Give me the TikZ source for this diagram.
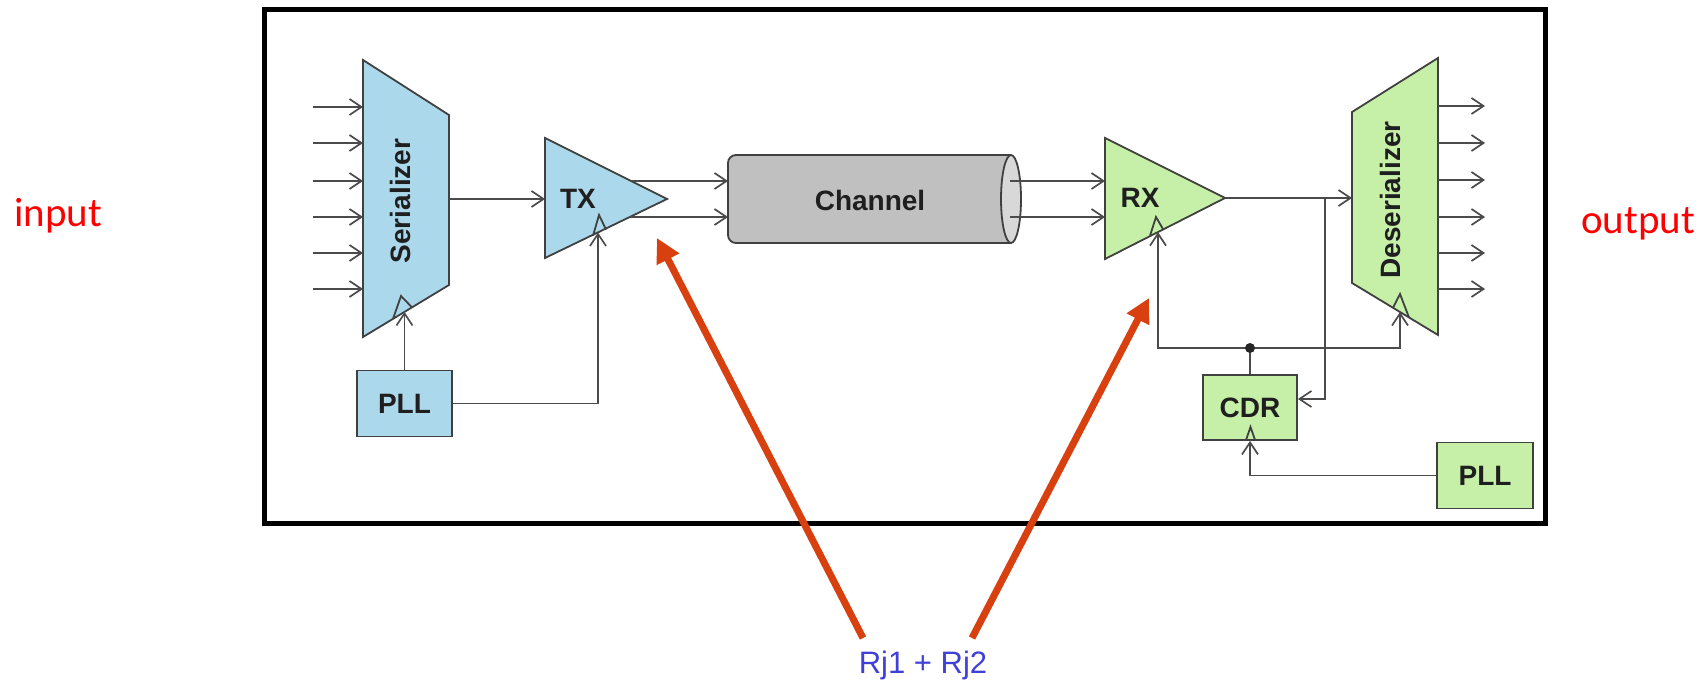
\documentclass[tikz,border=0pt]{standalone}
\usepackage{fontspec}
\setmainfont{Liberation Sans}
\newfontfamily\notefont{Carlito}
\usetikzlibrary{arrows.meta,calc}

\definecolor{txblue}{RGB}{172,216,236}
\definecolor{rxgreen}{RGB}{198,240,168}
\definecolor{chgray}{RGB}{192,192,192}
\definecolor{chlight}{RGB}{216,216,216}
\definecolor{edgegray}{RGB}{64,64,64}
\definecolor{wiregray}{RGB}{75,75,75}
\definecolor{jitred}{RGB}{216,64,16}
\definecolor{rjblue}{RGB}{64,64,216}

\begin{document}
\begin{tikzpicture}[x=0.5pt, y=-0.5pt,
  wire/.style={draw=wiregray, line width=0.85pt},
  sig/.style={wire, -{Straight Barb[length=6pt,width=8pt]}},
  blk/.style={draw=edgegray, line width=0.9pt},
  lbl/.style={font=\bfseries\fontsize{14}{16}\selectfont, text=black!88},
  blkbox/.style={blk, lbl, minimum width=47.5pt, minimum height=33pt, inner sep=0pt},
  jitter/.style={draw=jitred, line width=3.5pt, -{Triangle[length=12pt,width=12pt]}},
  note/.style={text=red, font=\notefont\fontsize{20.5}{24}\selectfont}]
  \useasboundingbox (0,0) rectangle (1706,689);

  % frame
  \draw[line width=2.5pt] (264.5,9.5) rectangle (1545,523);

  % transmitter side
  \path[blk, fill=txblue] (363,60) coordinate (ser-tl) -- (449,115) coordinate (ser-tr)
    -- (449,285) coordinate (ser-br) -- (363,337) coordinate (ser-bl) -- cycle;
  \node[lbl, rotate=90] (ser) at (400,201) {Serializer};
  \draw[blk] (393,318.9) -- (401,296) -- (412,307.4);
  \coordinate (ser-clk) at (404.5,311.9);
  \foreach \y in {107,143,181,217,253,289}
    \draw[sig] (313,\y) -- (ser-tl |- 0,\y);

  \path[blk, fill=txblue] (545,138) coordinate (tx-t) -- (667,199) coordinate (tx-a)
    -- (545,258) coordinate (tx-b) -- cycle;
  \node[lbl] (tx) at (578,199) {TX};
  \draw[blk] (593,235.8) -- (599,215) -- (606,229.5);
  \coordinate (tx-clk) at (598,232.4);
  \draw[sig] (ser-br |- tx-a) -- (tx-t |- tx-a);

  \node[blkbox, fill=txblue] (pll1) at (404.5,403.5) {PLL};
  \draw[sig] (pll1.north) -- (ser-clk);
  \draw[sig] (pll1.east) -| (tx-clk);

  % channel
  \path[blk, fill=chgray, rounded corners=4pt] (1011,155) -- (728,155) -- (728,243) -- (1011,243);
  \draw[blk, fill=chlight] (1011,199) ellipse [x radius=5pt, y radius=22pt];
  \node[lbl] (chan) at (870,200) {Channel};
  \coordinate (ch-in1) at (728,181);
  \coordinate (ch-in2) at (728,217);
  \draw[sig] ($(tx-t)!0.705!(tx-a)$) -- (ch-in1);
  \draw[sig] ($(tx-b)!0.695!(tx-a)$) -- (ch-in2);

  % receiver side
  \path[blk, fill=rxgreen] (1105,138) coordinate (rx-t) -- (1225,198) coordinate (rx-a)
    -- (1105,259) coordinate (rx-b) -- cycle;
  \node[lbl] (rx) at (1140,198) {RX};
  \draw[blk] (1150,235.7) -- (1156,217) -- (1163,229.1);
  \coordinate (rx-clk) at (1158,232.1);
  \draw[sig] (1010,181) -- (rx-t |- 0,181);
  \draw[sig] (1010,217) -- (rx-t |- 0,217);

  \path[blk, fill=rxgreen] (1352,112) coordinate (des-tl) -- (1438,58) coordinate (des-tr)
    -- (1438,335) coordinate (des-br) -- (1352,283) coordinate (des-bl) -- cycle;
  \node[lbl, rotate=90] (des) at (1390,200) {Deserializer};
  \draw[blk] (1393,307.8) -- (1400,294) -- (1409,317.5);
  \coordinate (des-clk) at (1400,312);
  \foreach \y in {106,143,180,217,253,289}
    \draw[sig] (des-tr |- 0,\y) -- (1485,\y);

  \node[blkbox, fill=rxgreen, minimum width=47pt, minimum height=32.5pt] (cdr) at (1250,407.5) {CDR};
  \draw[blk] (1246,440) -- (1250.5,427) -- (1255,440);
  \node[blkbox, fill=rxgreen, minimum width=48pt] (pll2) at (1485,475.5) {PLL};

  \coordinate (br) at (1325,198);
  \draw[sig] (rx-a) -- (des-tl |- rx-a);
  \draw[sig] (br) |- ([yshift=4.25pt]cdr.east);
  \coordinate (jn) at (cdr.north |- 0,348);
  \draw[wire] (cdr.north) -- (jn);
  \draw[sig] (jn) -| (rx-clk);
  \draw[sig] (jn) -| (des-clk);
  \fill[black!85] (jn) circle (2.5pt);
  \draw[sig] (pll2.west) -| (cdr.south);

  % jitter sources
  \node[text=rjblue, font=\fontsize{15.5}{18}\selectfont] (rj) at (923,665) {Rj1 + Rj2};
  \coordinate (tx-jit) at (657,238);
  \coordinate (rx-jit) at (1149,298);
  \draw[jitter] (863,638) -- (tx-jit);
  \draw[jitter] (972,638) -- (rx-jit);

  \node[note] (inlbl) at (58,216) {input};
  \node[note] (outlbl) at (1638,224) {output};
\end{tikzpicture}
\end{document}
